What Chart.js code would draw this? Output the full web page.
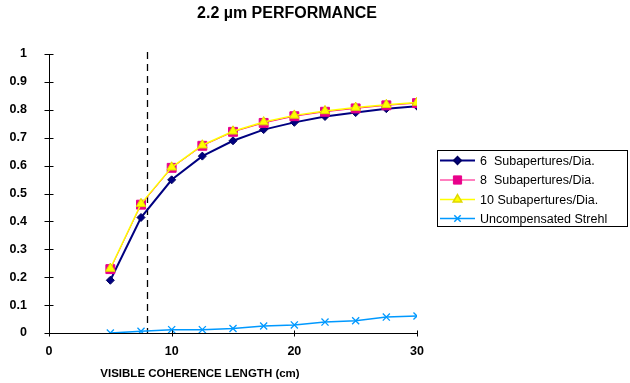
<!DOCTYPE html>
<html><head><meta charset="utf-8">
<script src="https://cdn.jsdelivr.net/npm/chart.js@4.4.1/dist/chart.umd.min.js"></script>
<style>html,body{margin:0;padding:0;background:#fff}#wrap{width:630px;height:383px;position:relative}</style>
</head><body><div id="wrap"><canvas id="c" width="630" height="383"></canvas></div>
<script>
const FONT = '"Liberation Sans", Arial, sans-serif';
const titleText = '2.2 \u00b5m PERFORMANCE';
const xTitle = 'VISIBLE COHERENCE LENGTH (cm)';
const coherenceLength = [5, 7.5, 10, 12.5, 15, 17.5, 20, 22.5, 25, 27.5, 30];
const sub6 = [0.189, 0.414, 0.549, 0.634, 0.689, 0.729, 0.755, 0.776, 0.790, 0.804, 0.813];
const sub8 = [0.229, 0.460, 0.592, 0.671, 0.721, 0.753, 0.777, 0.793, 0.805, 0.816, 0.824];
const sub10 = [0.231, 0.463, 0.594, 0.673, 0.723, 0.756, 0.780, 0.796, 0.808, 0.818, 0.826];
const uncompensated = [0.000, 0.006, 0.012, 0.012, 0.016, 0.025, 0.029, 0.039, 0.044, 0.057, 0.061];
const seriesNames = ['6  Subapertures/Dia.', '8  Subapertures/Dia.', '10 Subapertures/Dia.', 'Uncompensated Strehl'];
const markerX = 8;
const xTicks = [0, 10, 20, 30];
const yTicks = [0, 0.1, 0.2, 0.3, 0.4, 0.5, 0.6, 0.7, 0.8, 0.9, 1];

const pts = arr => coherenceLength.map((x, i) => ({x: x, y: arr[i]}));

const decor = {
  id: 'decor',
  beforeDatasetsDraw(chart) {
    const ctx = chart.ctx, xs = chart.scales.x, ys = chart.scales.y;
    const px = Math.round(xs.getPixelForValue(markerX)) + 0.5;
    ctx.save();
    ctx.strokeStyle = '#000'; ctx.lineWidth = 1.3; ctx.setLineDash([7, 5]);
    ctx.beginPath(); ctx.moveTo(px, ys.getPixelForValue(1) - 2); ctx.lineTo(px, ys.bottom); ctx.stroke();
    ctx.restore();
  },
  afterDraw(chart) {
    const ctx = chart.ctx, xs = chart.scales.x, ys = chart.scales.y, a = chart.chartArea;
    ctx.save();
    ctx.strokeStyle = '#000'; ctx.lineWidth = 1;
    const ax = Math.round(a.left) + 0.5, ay = Math.round(a.bottom) + 0.5;
    ctx.beginPath();
    ctx.moveTo(ax, ys.getPixelForValue(1)); ctx.lineTo(ax, ay);
    ctx.moveTo(ax, ay); ctx.lineTo(xs.getPixelForValue(30), ay);
    yTicks.forEach(v => { const y = Math.round(ys.getPixelForValue(v)) + 0.5; ctx.moveTo(ax - 5, y); ctx.lineTo(ax + 4, y); });
    xTicks.forEach(v => { const x = Math.round(xs.getPixelForValue(v)) + 0.5; ctx.moveTo(x, ay - 3); ctx.lineTo(x, ay + 3); });
    ctx.stroke();
    // titles
    ctx.fillStyle = '#000'; ctx.textAlign = 'center'; ctx.textBaseline = 'middle';
    ctx.font = 'bold 16px ' + FONT;
    ctx.fillText(titleText, 287, 14);
    ctx.font = 'bold 11.5px ' + FONT;
    ctx.fillText(xTitle, 200, 374);
    // legend
    const lx = 437.5, ly = 150.5, lw = 190, lh = 76;
    ctx.lineWidth = 1; ctx.strokeStyle = '#000';
    ctx.strokeRect(lx, ly, lw, lh);
    ctx.font = '12.5px ' + FONT; ctx.textAlign = 'left';
    const rows = [160.5, 180, 199.5, 218.5];
    chart.data.datasets.forEach((ds, i) => {
      const y = rows[i];
      ctx.save();
      ctx.strokeStyle = ds.borderColor; ctx.lineWidth = ds.borderWidth;
      ctx.beginPath(); ctx.moveTo(440, y); ctx.lineTo(475, y); ctx.stroke();
      ctx.fillStyle = ds.pointBackgroundColor; ctx.strokeStyle = ds.pointBorderColor;
      Chart.helpers.drawPoint(ctx, {pointStyle: ds.pointStyle, radius: ds.pointRadius - 0.5, borderWidth: ds.pointBorderWidth, rotation: 0}, 457.5, y);
      ctx.restore();
      ctx.fillStyle = '#000';
      ctx.fillText(seriesNames[i], 480, y + 1);
    });
    ctx.restore();
  }
};

new Chart(document.getElementById('c'), {
  type: 'line',
  data: {
    datasets: [
      {label: seriesNames[0], data: pts(sub6), borderColor: '#000080', borderWidth: 2, pointStyle: 'rectRot', pointRadius: 4, pointBackgroundColor: '#000080', pointBorderColor: '#000060', pointBorderWidth: 1, order: 3},
      {label: seriesNames[1], data: pts(sub8), borderColor: '#FF0080', borderWidth: 1, pointStyle: 'rect', pointRadius: 6.3, pointBackgroundColor: '#E8008A', pointBorderColor: '#E8008A', pointBorderWidth: 1, order: 2},
      {label: seriesNames[2], data: pts(sub10), borderColor: '#FFFF00', borderWidth: 1.5, pointStyle: 'triangle', pointRadius: 5.5, pointBackgroundColor: '#FFFF00', pointBorderColor: '#E0D800', pointBorderWidth: 1, order: 1},
      {label: seriesNames[3], data: pts(uncompensated), borderColor: '#0099FF', borderWidth: 1.5, pointStyle: 'crossRot', pointRadius: 5, pointBackgroundColor: '#0099FF', pointBorderColor: '#0099FF', pointBorderWidth: 1.3, order: 4}
    ]
  },
  options: {
    responsive: false, animation: false,
    layout: {padding: {top: 54, right: 213, left: 0, bottom: 0}},
    plugins: {legend: {display: false}, tooltip: {enabled: false}, title: {display: false}},
    elements: {line: {tension: 0}},
    scales: {
      x: {type: 'linear', min: 0, max: 30,
        afterFit: s => { s.height = 50; },
        afterBuildTicks: s => { s.ticks = xTicks.map(v => ({value: v})); },
        grid: {display: false, drawTicks: false}, border: {display: false},
        ticks: {padding: 11, color: '#000', font: {family: FONT, size: 12.5, weight: 'bold'}, maxRotation: 0}},
      y: {type: 'linear', min: 0, max: 1,
        afterFit: s => { s.width = 49; },
        afterBuildTicks: s => { s.ticks = yTicks.map(v => ({value: v})); },
        grid: {display: false, drawTicks: false}, border: {display: false},
        ticks: {padding: 22, color: '#000', font: {family: FONT, size: 12.5, weight: 'bold'}, callback: v => String(Math.round(v * 10) / 10)}}
    }
  },
  plugins: [decor]
});
</script></body></html>
